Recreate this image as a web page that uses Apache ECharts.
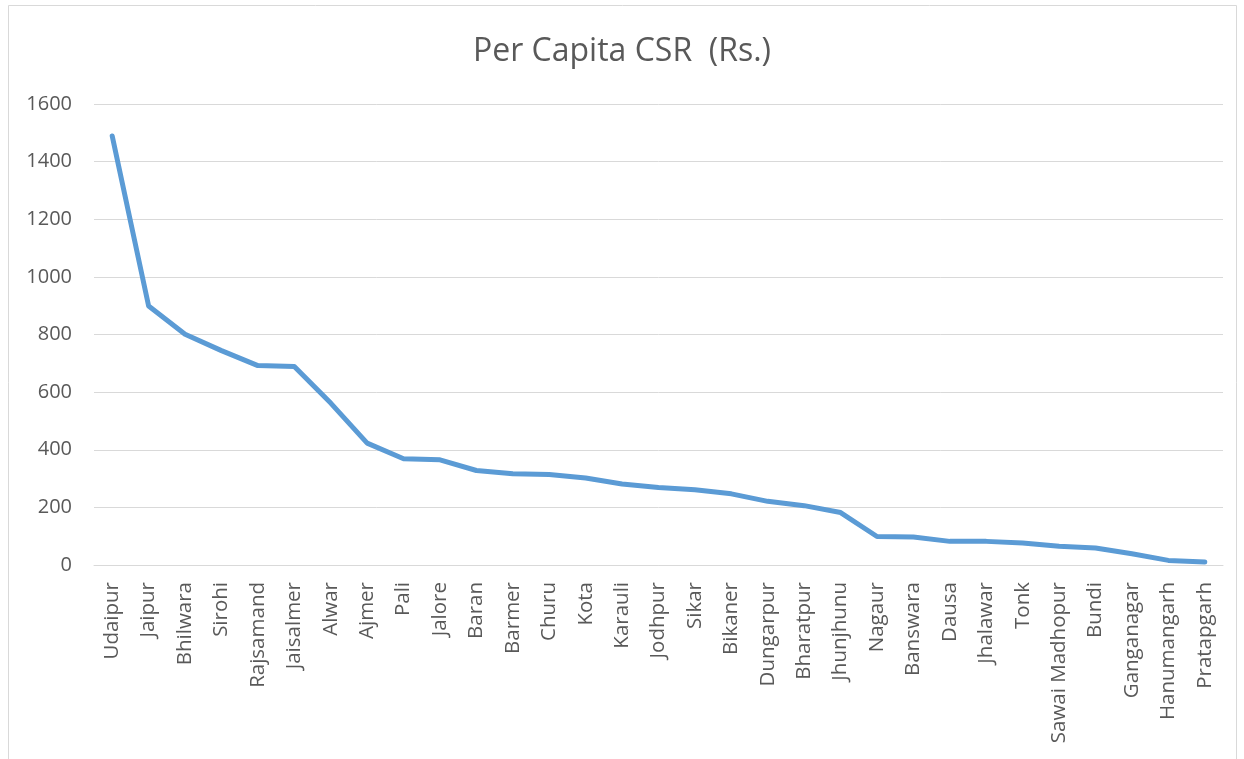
<!DOCTYPE html>
<html><head><meta charset="utf-8">
<script src="https://cdn.jsdelivr.net/npm/echarts@6/dist/echarts.min.js"></script>
<style>html,body{margin:0;padding:0;background:#fff}#c{width:1244px;height:759px}</style>
</head><body><div id="c"></div>
<script>
const categories = ["Udaipur","Jaipur","Bhilwara","Sirohi","Rajsamand","Jaisalmer","Alwar","Ajmer","Pali","Jalore","Baran","Barmer","Churu","Kota","Karauli","Jodhpur","Sikar","Bikaner","Dungarpur","Bharatpur","Jhunjhunu","Nagaur","Banswara","Dausa","Jhalawar","Tonk","Sawai Madhopur","Bundi","Ganganagar","Hanumangarh","Pratapgarh"];
const values = [1489,899,801,744,692,689,562,423,369,365,328,317,314,302,281,269,261,247,221,206,182,99,97,82,82,76,65,59,39,16,10];
const titleText = "Per Capita CSR  (Rs.)";
const chart = echarts.init(document.getElementById('c'));
chart.setOption({
  animation:false,
  backgroundColor:'#fff',
  textStyle:{fontFamily:'Open Sans'},
  title:{text:titleText,left:'center',top:31,textStyle:{fontFamily:'Open Sans',fontSize:32,fontWeight:'normal',color:'#595959'}},
  graphic:[{type:'rect',shape:{x:8.5,y:5.5,width:1228,height:760},style:{fill:'none',stroke:'#d9d9d9',lineWidth:1},silent:true}],
  grid:{left:94,right:21,top:104,bottom:194,containLabel:false},
  xAxis:{type:'category',data:categories,boundaryGap:true,
    axisLine:{show:true,lineStyle:{color:'#d9d9d9',width:1}},axisTick:{show:false},
    axisLabel:{rotate:90,interval:0,margin:17,fontSize:20.5,color:'#595959',fontFamily:'Open Sans'}},
  yAxis:{type:'value',min:0,max:1600,interval:200,
    axisLine:{show:false},axisTick:{show:false},
    splitLine:{lineStyle:{color:'#d9d9d9',width:1}},
    axisLabel:{margin:22,fontSize:20,color:'#595959',fontFamily:'Open Sans',formatter:function(v){return String(v);}}},
  series:[{type:'line',data:values,symbol:'none',lineStyle:{color:'#5b9bd5',width:5,cap:'round',join:'round'}}]
});
</script></body></html>
